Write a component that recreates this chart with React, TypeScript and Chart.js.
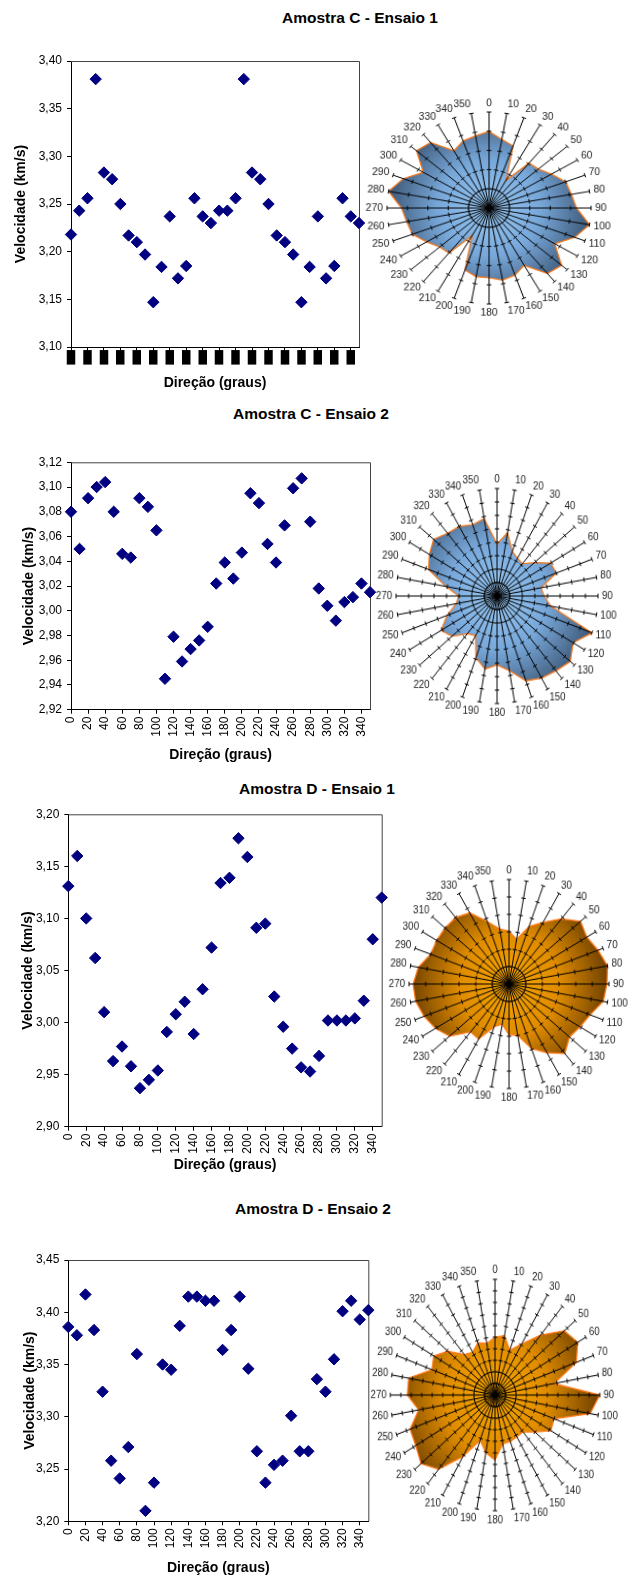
import React, { useEffect, useRef } from 'react';
import { Chart, registerables } from 'chart.js';

Chart.register(...registerables);

const FONT = "'Liberation Sans', Arial, sans-serif";
Chart.defaults.font.family = FONT;
Chart.defaults.color = '#000';

// Direction categories (degrees)
const DIRECTIONS = [0, 10, 20, 30, 40, 50, 60, 70, 80, 90, 100, 110, 120, 130, 140, 150, 160, 170,
  180, 190, 200, 210, 220, 230, 240, 250, 260, 270, 280, 290, 300, 310, 320, 330, 340, 350];

// Velocities (km/s)
const C1_VEL = [3.218, 3.243, 3.256, 3.381, 3.283, 3.276, 3.250, 3.217, 3.210, 3.197, 3.147, 3.184,
  3.237, 3.172, 3.185, 3.256, 3.237, 3.230, 3.243, 3.243, 3.256, 3.381, 3.283, 3.276,
  3.250, 3.217, 3.210, 3.197, 3.147, 3.184, 3.237, 3.172, 3.185, 3.256, 3.237, 3.230];
const C2_VEL = [3.080, 3.050, 3.091, 3.100, 3.104, 3.080, 3.046, 3.043, 3.091, 3.084, 3.065, 2.945,
  2.979, 2.959, 2.969, 2.976, 2.987, 3.022, 3.039, 3.026, 3.047, 3.095, 3.087, 3.054,
  3.039, 3.069, 3.099, 3.107, 3.072, 3.018, 3.004, 2.992, 3.007, 3.011, 3.022, 3.015];
const D1_VEL = [3.131, 3.160, 3.100, 3.062, 3.010, 2.963, 2.977, 2.958, 2.937, 2.945, 2.954, 2.991,
  3.008, 3.020, 2.989, 3.032, 3.072, 3.134, 3.139, 3.177, 3.159, 3.091, 3.095, 3.025,
  2.996, 2.975, 2.957, 2.953, 2.968, 3.002, 3.002, 3.002, 3.004, 3.021, 3.080, 3.120];
const D2_VEL = [3.386, 3.378, 3.417, 3.383, 3.324, 3.258, 3.241, 3.271, 3.360, 3.210, 3.237, 3.350,
  3.345, 3.387, 3.415, 3.415, 3.411, 3.411, 3.364, 3.383, 3.415, 3.346, 3.267, 3.237,
  3.254, 3.258, 3.301, 3.267, 3.267, 3.336, 3.324, 3.355, 3.401, 3.411, 3.393, 3.402];

// Scatter y-axis ranges: [min, max, step]
const C1_Y = [3.10, 3.40, 0.05];
const C2_Y = [2.92, 3.12, 0.02];
const D1_Y = [2.90, 3.20, 0.05];
const D2_Y = [3.20, 3.45, 0.05];

// Radar (reversed) radial ranges: [edge value, centre value, divisions]
const C1_R = [3.147, 3.497, 5];
const C2_R = [2.945, 3.206, 8];
const D1_R = [2.937, 3.330, 6];
const D2_R = [3.210, 3.561, 10];

const TITLES = ['Amostra C - Ensaio 1', 'Amostra C - Ensaio 2', 'Amostra D - Ensaio 1', 'Amostra D - Ensaio 2'];

const framePlugin = {
  id: 'frame',
  beforeDatasetsDraw(chart: any) {
    const { ctx, chartArea } = chart;
    ctx.save();
    ctx.strokeStyle = '#444';
    ctx.lineWidth = 1;
    ctx.beginPath();
    ctx.moveTo(chartArea.left, chartArea.top + 0.5);
    ctx.lineTo(chartArea.right + 0.5, chartArea.top + 0.5);
    ctx.lineTo(chartArea.right + 0.5, chartArea.bottom);
    ctx.stroke();
    ctx.restore();
  },
};

type ScatterProps = {
  values: number[]; yr: number[]; top: number; width: number; height: number;
  padTop: number; padRight: number; yAxisW: number; xAxisH: number;
  xTitlePB: number; yTitlePT: number; blocks?: boolean;
};

function Scatter(p: ScatterProps) {
  const ref = useRef<HTMLCanvasElement>(null);
  useEffect(() => {
    const chart = new Chart(ref.current as HTMLCanvasElement, {
      type: 'scatter',
      data: {
        datasets: [{
          data: DIRECTIONS.map((d, i) => ({ x: d, y: p.values[i] })),
          pointStyle: 'rectRot',
          pointRadius: 5.7,
          pointBackgroundColor: '#000080',
          pointBorderColor: '#000080',
          pointBorderWidth: 1,
          clip: false as any,
        } as any],
      },
      options: {
        responsive: false,
        animation: false,
        devicePixelRatio: 1,
        layout: { padding: { top: p.padTop, right: p.padRight, left: 0, bottom: 0 } },
        plugins: { legend: { display: false }, tooltip: { enabled: false } },
        scales: {
          x: {
            type: 'linear', min: 0, max: 350,
            afterFit: (s: any) => { s.height = p.xAxisH; },
            ticks: {
              stepSize: 20, includeBounds: false, autoSkip: false,
              minRotation: p.blocks ? 0 : 90, maxRotation: p.blocks ? 0 : 90,
              padding: p.blocks ? 1 : 3,
              font: { size: 12, lineHeight: 1 }, color: '#000',
              callback: (v: any) => (p.blocks ? '█' : String(v)),
            },
            grid: { drawOnChartArea: false, drawTicks: true, tickLength: 4, color: '#000' },
            border: { display: true, color: '#000' },
            title: {
              display: true, text: 'Direção (graus)', color: '#000',
              font: { size: 14, weight: 'bold' }, padding: { top: 0, bottom: p.xTitlePB },
            },
          },
          y: {
            min: p.yr[0], max: p.yr[1],
            afterFit: (s: any) => { s.width = p.yAxisW; },
            ticks: {
              stepSize: p.yr[2], padding: 5, font: { size: 12 }, color: '#000',
              callback: (v: any) => Number(v).toFixed(2).replace('.', ','),
            },
            grid: { drawOnChartArea: false, drawTicks: true, tickLength: 4, color: '#000' },
            border: { display: true, color: '#000' },
            title: {
              display: true, text: 'Velocidade (km/s)', color: '#000',
              font: { size: 14, weight: 'bold' }, padding: { top: p.yTitlePT, bottom: 0 },
            },
          },
        },
      } as any,
      plugins: [framePlugin],
    });
    return () => chart.destroy();
  }, []);
  return (
    <canvas ref={ref} width={p.width} height={p.height}
      style={{ position: 'absolute', left: 0, top: p.top, width: p.width, height: p.height }} />
  );
}

const radarDecor = {
  id: 'radarDecor',
  afterDatasetsDraw(chart: any) {
    const s = chart.scales.r;
    const ctx = chart.ctx;
    const labels = chart.data.labels as string[];
    const n = labels.length;
    const R = s.drawingArea;
    ctx.save();
    ctx.strokeStyle = '#000';
    ctx.lineWidth = 1;
    for (let i = 0; i < n; i++) {
      const end = s.getPointPosition(i, R);
      ctx.beginPath();
      ctx.moveTo(s.xCenter, s.yCenter);
      ctx.lineTo(end.x, end.y);
      ctx.stroke();
      const ux = (end.x - s.xCenter) / R;
      const uy = (end.y - s.yCenter) / R;
      const px = -uy, py = ux;
      for (const t of s.ticks) {
        const d = s.getDistanceFromCenterForValue(t.value);
        if (d < 3) continue;
        const q = s.getPointPosition(i, d);
        ctx.beginPath();
        ctx.moveTo(q.x - px * 2.3, q.y - py * 2.3);
        ctx.lineTo(q.x + px * 2.3, q.y + py * 2.3);
        ctx.stroke();
      }
    }
    ctx.fillStyle = '#222';
    ctx.font = '10px ' + FONT;
    for (let i = 0; i < n; i++) {
      const a = (i / n) * Math.PI * 2;
      const sn = Math.sin(a), cs = Math.cos(a);
      const q = s.getPointPosition(i, R + 4);
      ctx.textAlign = sn > 0.02 ? 'left' : sn < -0.02 ? 'right' : 'center';
      ctx.textBaseline = 'middle';
      ctx.fillText(labels[i], q.x, q.y - cs * 5);
    }
    ctx.restore();
  },
};

type RadarProps = {
  values: number[]; rr: number[]; cx: number; cy: number; rx: number; ry: number;
  inner: string; mid: string; outer: string; line: string;
};

function Radar(p: RadarProps) {
  const ref = useRef<HTMLCanvasElement>(null);
  const R0 = Math.round((p.rx + p.ry) / 2);
  const pad = 34;
  const size = 2 * (R0 + pad);
  useEffect(() => {
    const [lo, hi, div] = p.rr;
    const chart = new Chart(ref.current as HTMLCanvasElement, {
      type: 'radar',
      data: {
        labels: DIRECTIONS.map(String),
        datasets: [{
          data: p.values,
          fill: 'start',
          borderColor: p.line,
          borderWidth: 1.3,
          pointRadius: 0,
          backgroundColor: (c: any) => {
            const s = c.chart.scales && c.chart.scales.r;
            if (!s || !s.drawingArea) return p.mid;
            const g = c.chart.ctx.createRadialGradient(s.xCenter, s.yCenter, 0, s.xCenter, s.yCenter, s.drawingArea);
            g.addColorStop(0, p.inner);
            g.addColorStop(0.5, p.mid);
            g.addColorStop(1, p.outer);
            return g;
          },
        } as any],
      },
      options: {
        responsive: false,
        animation: false,
        devicePixelRatio: 1,
        layout: { padding: pad },
        plugins: { legend: { display: false }, tooltip: { enabled: false } },
        scales: {
          r: {
            min: lo, max: hi, reverse: true,
            ticks: { display: false, stepSize: (hi - lo) / div },
            grid: { display: false },
            angleLines: { display: false },
            pointLabels: { display: false },
          },
        },
      } as any,
      plugins: [radarDecor],
    });
    return () => chart.destroy();
  }, []);
  return (
    <canvas ref={ref} width={size} height={size}
      style={{
        position: 'absolute', left: p.cx - R0 - pad, top: p.cy - R0 - pad, width: size, height: size,
        transform: `scale(${p.rx / R0}, ${p.ry / R0})`, transformOrigin: `${R0 + pad}px ${R0 + pad}px`,
      }} />
  );
}

function Title({ text, cx, cy }: { text: string; cx: number; cy: number }) {
  return (
    <div style={{
      position: 'absolute', left: cx - 150, top: cy - 9, width: 300, height: 18, lineHeight: '18px',
      textAlign: 'center', fontFamily: FONT, fontWeight: 'bold', fontSize: 15.5, color: '#000',
    }}>{text}</div>
  );
}

const BLUE = { inner: '#9ccbf5', mid: '#78a8da', outer: '#3d5775', line: '#f07820' };
const ORANGE = { inner: '#f9a800', mid: '#e08c00', outer: '#6e4000', line: '#ff7a1a' };

export default function App() {
  return (
    <div style={{ position: 'absolute', left: 0, top: 0, width: 631, height: 1577, background: '#fff', overflow: 'hidden' }}>
      <Title text={TITLES[0]} cx={360} cy={18} />
      <Title text={TITLES[1]} cx={311} cy={414} />
      <Title text={TITLES[2]} cx={317} cy={789} />
      <Title text={TITLES[3]} cx={313} cy={1209} />

      <Scatter values={C1_VEL} yr={C1_Y} top={40} width={380} height={355} padTop={21} padRight={21}
        yAxisW={71} xAxisH={48} xTitlePB={3.6} yTitlePT={12.6} blocks />
      <Scatter values={C2_VEL} yr={C2_Y} top={425} width={385} height={343} padTop={37.3} padRight={15}
        yAxisW={71} xAxisH={58.3} xTitlePB={4.6} yTitlePT={20.6} />
      <Scatter values={D1_VEL} yr={D1_Y} top={795} width={395} height={380} padTop={19.3} padRight={13.3}
        yAxisW={68.3} xAxisH={48.3} xTitlePB={1.6} yTitlePT={20} />
      <Scatter values={D2_VEL} yr={D2_Y} top={1230} width={385} height={347} padTop={30} padRight={16.7}
        yAxisW={68.3} xAxisH={55.7} xTitlePB={0.6} yTitlePT={21.6} />

      <Radar values={C1_VEL} rr={C1_R} cx={489} cy={208} rx={102} ry={96} {...BLUE} />
      <Radar values={C2_VEL} rr={C2_R} cx={497} cy={596} rx={101} ry={107.5} {...BLUE} />
      <Radar values={D1_VEL} rr={D1_R} cx={508.5} cy={984} rx={100} ry={104.5} {...ORANGE} />
      <Radar values={D2_VEL} rr={D2_R} cx={495} cy={1395} rx={104.7} ry={115.7} {...ORANGE} />
    </div>
  );
}
